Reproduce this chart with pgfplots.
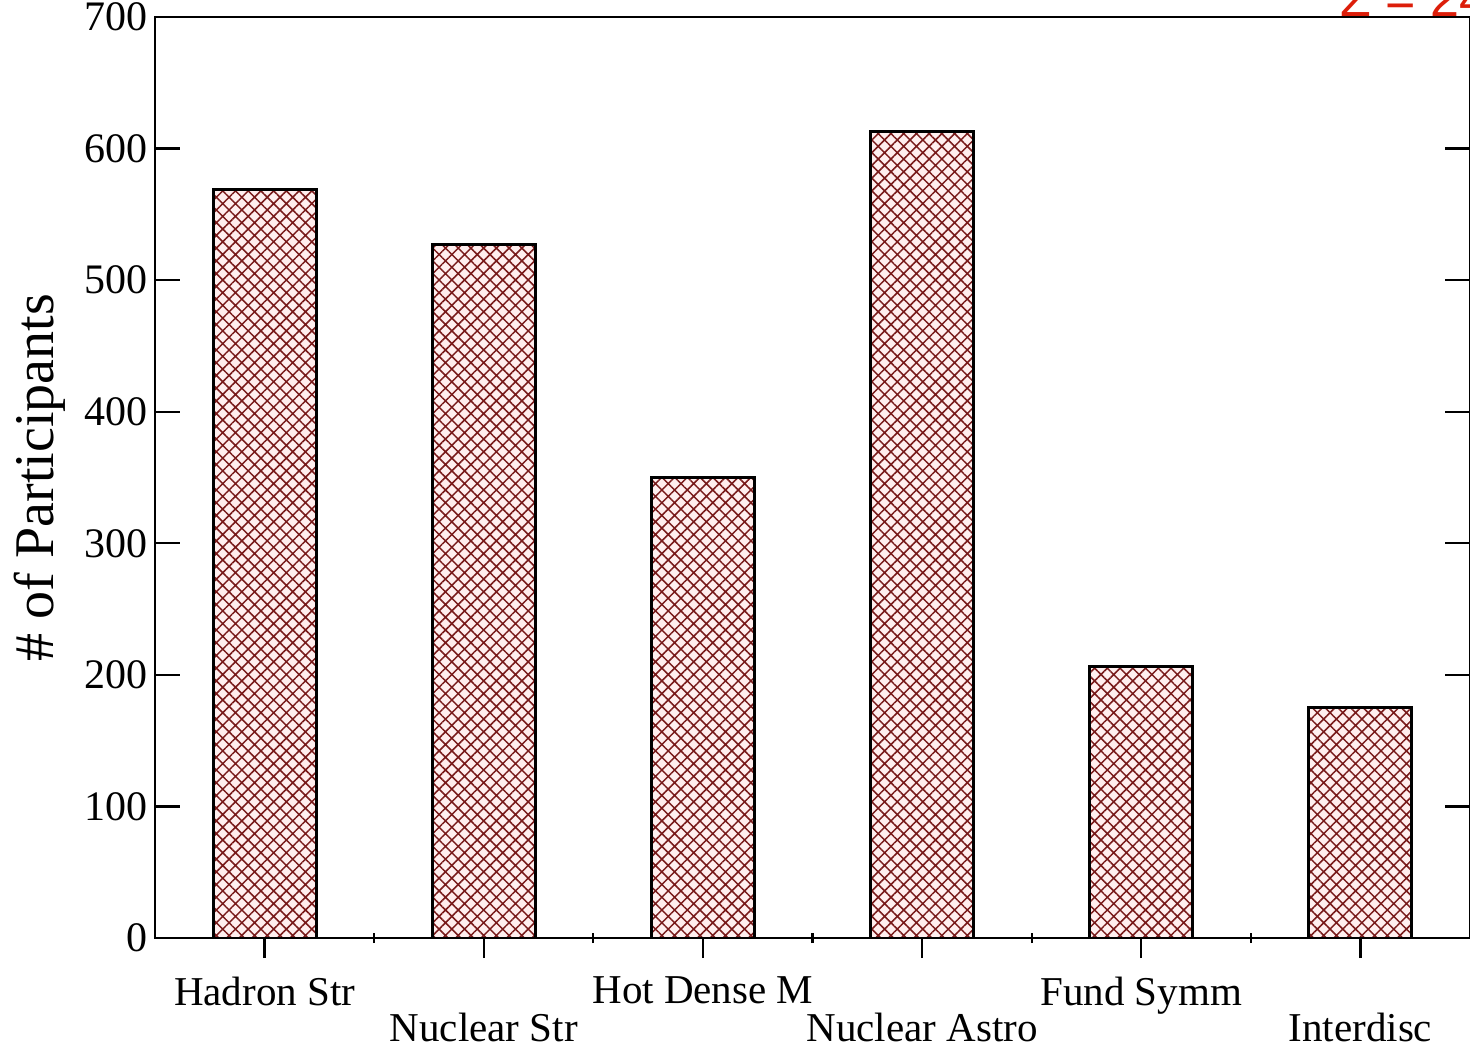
\documentclass[border=0pt]{standalone}
\usepackage{fontspec}
\setmainfont{Liberation Serif}
\newfontfamily\sansf{Liberation Sans}
\usepackage{pgfplots}
\pgfplotsset{compat=1.18}
\usetikzlibrary{patterns.meta}
\definecolor{hatch}{RGB}{120,26,26}
\definecolor{barbg}{RGB}{255,238,238}
\definecolor{sumred}{RGB}{220,30,10}
\pgfplotstableread{
x y
0 569
1 527
2 350
3 613
4 206
5 175
}\datatable
\begin{document}
\begin{tikzpicture}
\begin{axis}[
  at={(77.5pt,56pt)}, anchor=south west,
  scale only axis, width=657.5pt, height=460.5pt,
  xmin=-0.5, xmax=5.5, ymin=0, ymax=700,
  axis line style={line width=1.3pt},
  /pgf/number format/assume math mode=true,
  tick style={black, line width=1.1pt},
  major tick length=20pt,
  minor tick length=5pt,
  xtick align=center,
  ytick align=inside,
  xtick={0,2,4},
  xticklabels={Hadron Str,Hot Dense M,Fund Symm},
  minor xtick={0.5,1.5,2.5,3.5,4.5},
  xtick pos=bottom,
  xticklabel style={font=\fontsize{20.5}{21}\selectfont, anchor=north, yshift=-6pt},
  extra x ticks={1,3,5},
  extra x tick labels={Nuclear Str,Nuclear Astro,Interdisc},
  extra x tick style={major tick length=20pt, tick align=center,
     tick label style={font=\fontsize{20.5}{21}\selectfont, anchor=north, yshift=-18pt}},
  ytick=\empty,
  minor ytick={25,50,...,675},
  extra y ticks={0,100,...,700},
  extra y tick style={major tick length=12.5pt, tick align=inside,
     tick label style={font=\fontsize{21}{21}\selectfont}},
  ylabel={\# of Participants},
  ylabel shift=3pt,
  ylabel style={font=\fontsize{28}{28}\selectfont},
]
\addplot[ybar, bar width=51.5pt, draw=black, line width=1.5pt, fill=barbg,
  postaction={pattern={Hatch[angle=45,distance=4.5pt,line width=0.75pt]}, pattern color=hatch}]
  table[x=x,y=y]{\datatable};
\end{axis}
\node[anchor=base west, text=sumred, font=\sansf\fontsize{26}{26}\selectfont, inner sep=0pt] at (669.5pt,516.5pt) {Σ = 2440};
\pgfresetboundingbox
\useasboundingbox (0,0) rectangle (735pt,525pt);
\end{tikzpicture}
\end{document}
